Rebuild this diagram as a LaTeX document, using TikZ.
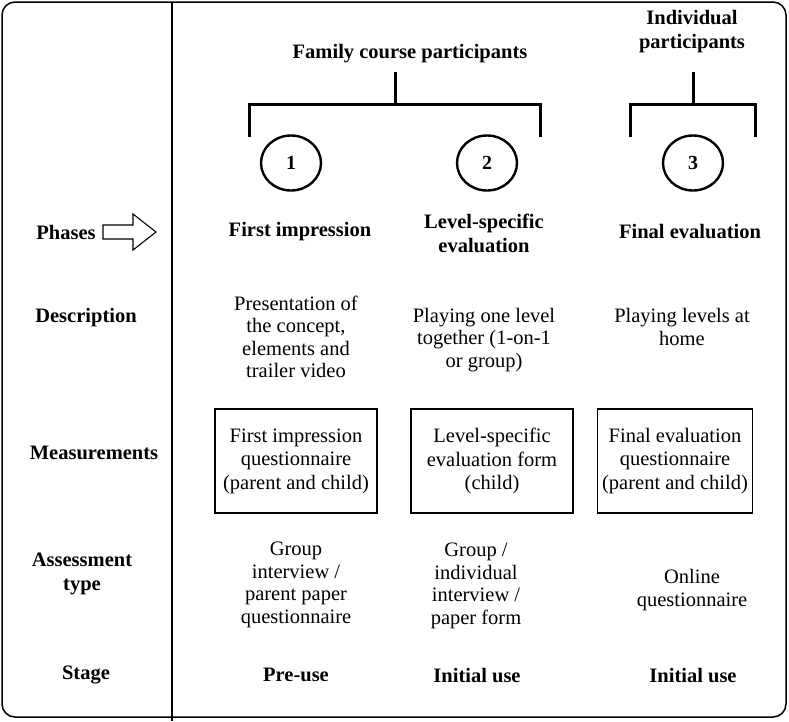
\documentclass[tikz,border=0pt]{standalone}
\usepackage{fontspec}
\setmainfont{Liberation Serif}
\usetikzlibrary{shapes.geometric}
\begin{document}
\begin{tikzpicture}[x=1pt,y=-1pt,
  txt/.style={align=center,font=\fontsize{20.5}{22.5}\selectfont,inner sep=0pt},
  btxt/.style={txt,font=\fontsize{20.5}{24}\selectfont\bfseries},
  mbox/.style={draw,line width=1.4pt,minimum width=#1,minimum height=104pt,align=center,font=\fontsize{20.5}{23.5}\selectfont,inner sep=0pt},
  num/.style={draw,line width=2.4pt,ellipse,minimum width=60pt,minimum height=55pt,inner sep=0pt,font=\fontsize{20}{20}\selectfont\bfseries},
  brk/.style={line width=3pt}]
\useasboundingbox (0,0) rectangle (789,721);
% frame
\draw[line width=1.5pt,rounded corners=13pt] (2,2) rectangle (786,717);
\coordinate (dtop) at (172,2);
\coordinate (dbot) at (172,721);
\draw[line width=1.3pt] (dtop) -- (dbot);
% top labels
\node[btxt] (fam) at (410,54) {Family course participants};
\node[btxt] (ind) at (692,32) {Individual\\participants};
% brackets
\coordinate (s1t) at (395,72);
\coordinate (s1b) at (395,104);
\coordinate (b1l) at (249,104);
\coordinate (b1r) at (540,104);
\coordinate (l1b) at (249,137);
\coordinate (r1b) at (540,137);
\draw[brk] (s1t) -- (s1b);
\draw[brk] (l1b) -- (b1l) -- (b1r) -- (r1b);
\coordinate (s2t) at (693,72);
\coordinate (s2b) at (693,104);
\coordinate (b2l) at (630,104);
\coordinate (b2r) at (755,104);
\coordinate (l2b) at (630,137);
\coordinate (r2b) at (755,137);
\draw[brk] (s2t) -- (s2b);
\draw[brk] (l2b) -- (b2l) -- (b2r) -- (r2b);
% circles
\node[num] (c1) at (291,163) {1};
\node[num] (c2) at (487,163) {2};
\node[num] (c3) at (693,163) {3};
% left labels
\node[btxt] (lph) at (66,232) {Phases};
\node[btxt] (lde) at (86,318) {Description};
\node[btxt] (lme) at (94,453) {Measurements};
\node[btxt] (las) at (82,574) {Assessment\\type};
\node[btxt] (lst) at (86,675) {Stage};
% arrow
\draw[line width=1.1pt,line join=miter] (103,225) -- (133,225) -- (133,214) -- (156,232) -- (133,250) -- (133,239) -- (103,239) -- cycle;
% phases
\node[btxt] (p1) at (300,232) {First impression};
\node[btxt] (p2) at (484,233) {Level-specific\\evaluation};
\node[btxt] (p3) at (690,232) {Final evaluation};
% description
\node[txt] (d1) at (296,337) {Presentation of\\the concept,\\elements and\\trailer video};
\node[txt] (d2) at (484,340) {Playing one level\\together (1-on-1\\or group)};
\node[txt] (d3) at (682,327) {Playing levels at\\home};
% measurements
\node[mbox=162pt] (m1) at (296,461) {First impression\\questionnaire\\(parent and child)};
\node[mbox=162pt] (m2) at (492,461) {Level-specific\\evaluation form\\(child)};
\node[mbox=155pt] (m3) at (675,461) {Final evaluation\\questionnaire\\(parent and child)};
% assessment
\node[txt] (a1) at (296,585) {Group\\interview /\\parent paper\\questionnaire};
\node[txt] (a2) at (476,586) {Group /\\individual\\interview /\\paper form};
\node[txt] (a3) at (692,590) {Online\\questionnaire};
% stage
\node[btxt] (st1) at (296,675) {Pre-use};
\node[btxt] (st2) at (477,675) {Initial use};
\node[btxt] (st3) at (693,675) {Initial use};
\end{tikzpicture}
\end{document}
